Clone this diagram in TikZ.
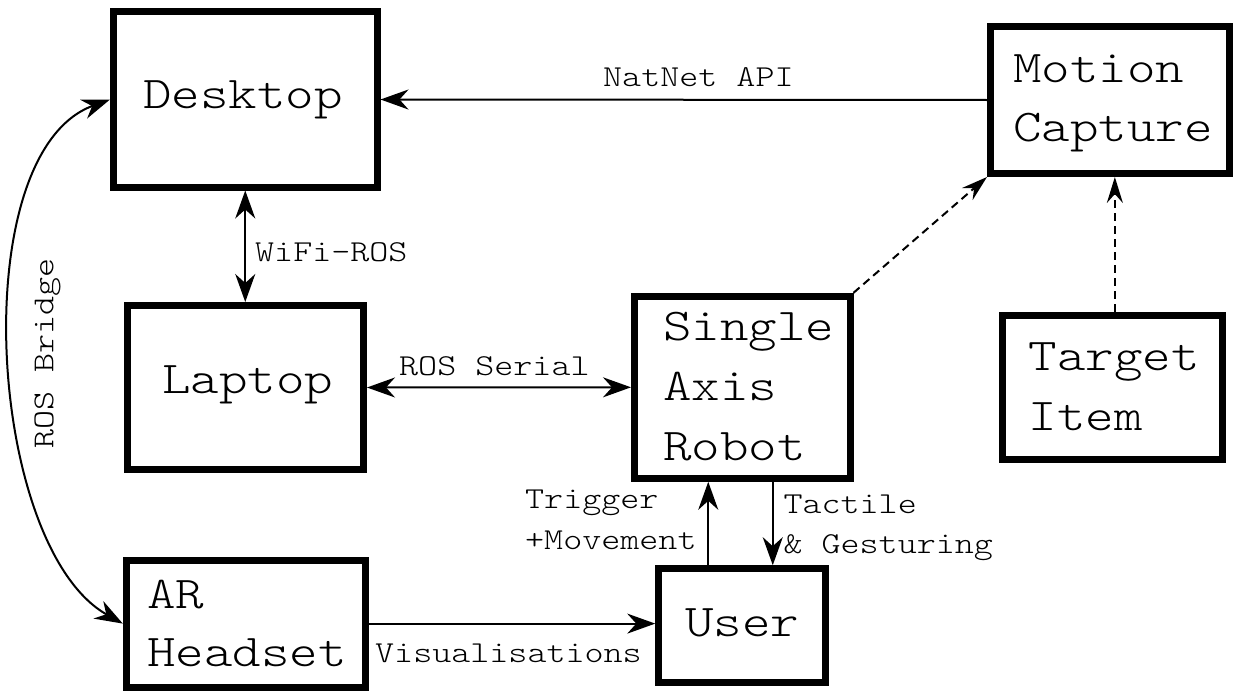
\documentclass[tikz,border=0pt]{standalone}
\usepackage{fontspec}
% light slab-serif typewriter face, widened to Courier proportions
\newfontfamily\courfont[FakeStretch=1.193]{lmmonolt10-regular.otf}
\usetikzlibrary{arrows.meta}
% stacked lines whose baseline is the first line's baseline
\newcommand{\twoline}[3]{\vtop{\baselineskip=#3pt\hbox{#1}\hbox{#2}}}
\newcommand{\threeline}[4]{\vtop{\baselineskip=#4pt\hbox{#1}\hbox{#2}\hbox{#3}}}
\tikzset{
  box/.style={draw, rectangle, line width=7pt, inner sep=0pt},
  big/.style={font=\courfont\fontsize{45.5}{59}\selectfont, inner sep=0pt, anchor=base west},
  small/.style={font=\courfont\fontsize{30.4}{40}\selectfont, inner sep=0pt, anchor=base west},
  link/.style={line width=2pt},
  dlink/.style={line width=2pt, dash pattern=on 8pt off 5pt,
    -{Stealth[length=26pt,width=16pt,inset=9pt]}},
}
\begin{document}
\begin{tikzpicture}[x=1pt,y=-1pt,>={Stealth[length=28pt,width=20pt,inset=9pt]}]
\useasboundingbox (0,0) rectangle (1236,693);

% boxes
\node[box, minimum width=263.5pt, minimum height=175pt] (desk) at (245.25,99.5) {};
\node[box, minimum width=239pt, minimum height=147pt] (mocap) at (1110,100) {};
\node[box, minimum width=236.5pt, minimum height=164pt] (lap) at (245.25,387.5) {};
\node[box, minimum width=215.5pt, minimum height=182pt] (robot) at (742.25,387.3) {};
\node[box, minimum width=220.7pt, minimum height=144.4pt] (target) at (1112.35,387.5) {};
\node[box, minimum width=167pt, minimum height=113.3pt] (user) at (742.25,625.35) {};
\node[box, minimum width=238.7pt, minimum height=126.8pt] (ar) at (245.65,623.6) {};

% box texts
\node[big] (deskT) at (143,108.3) {Desktop};
\node[big] (mocapT) at (1013,82.7) {\twoline{Motion}{Capture}{59}};
\node[big] (lapT) at (162,393) {Laptop};
\node[big] (robotT) at (663,340) {\threeline{Single}{Axis}{Robot}{60}};
\node[big] (targetT) at (1028.3,370) {\twoline{Target}{Item}{60}};
\node[big] (userT) at (685,636) {User};
\node[big] (arT) at (147,608.3) {\twoline{AR}{Headset}{58.4}};

% connectors
\draw[link,->] (mocap.west) -- (desk.east);
\draw[link,<->] (desk.south) -- (lap.north);
\draw[link,<->] (lap.east) -- (robot.west);
\draw[link,->] ([xshift=-34pt]user.north) -- ([xshift=-34pt]robot.south);
\draw[link,->] ([xshift=30.5pt]robot.south) -- ([xshift=30.5pt]user.north);
\draw[link,->] (ar.east) -- (ar.east -| user.west);
\draw[dlink] (robot.north east) -- (mocap.south west);
\draw[dlink] ([xshift=2.5pt]target.north) -- ([xshift=2.5pt]target.north |- mocap.south);
\draw[link,<->] (ar.west) .. controls (-13,547) and (-36,153) .. (desk.west);

% connector labels
\node[small] (natnetL) at (603,86.7) {NatNet API};
\node[small] (wifiL) at (255,261) {WiFi-ROS};
\node[small] (serialL) at (399,375.7) {ROS Serial};
\node[small] (trigL) at (525,508.5) {\twoline{Trigger}{+Movement}{40.5}};
\node[small] (tactL) at (783.3,513) {\twoline{Tactile}{\&~Gesturing}{40}};
\node[small] (visL) at (375,662) {Visualisations};
\node[small, rotate=90, anchor=base] (bridgeL) at (53.3,353.5) {ROS Bridge};
\end{tikzpicture}
\end{document}
